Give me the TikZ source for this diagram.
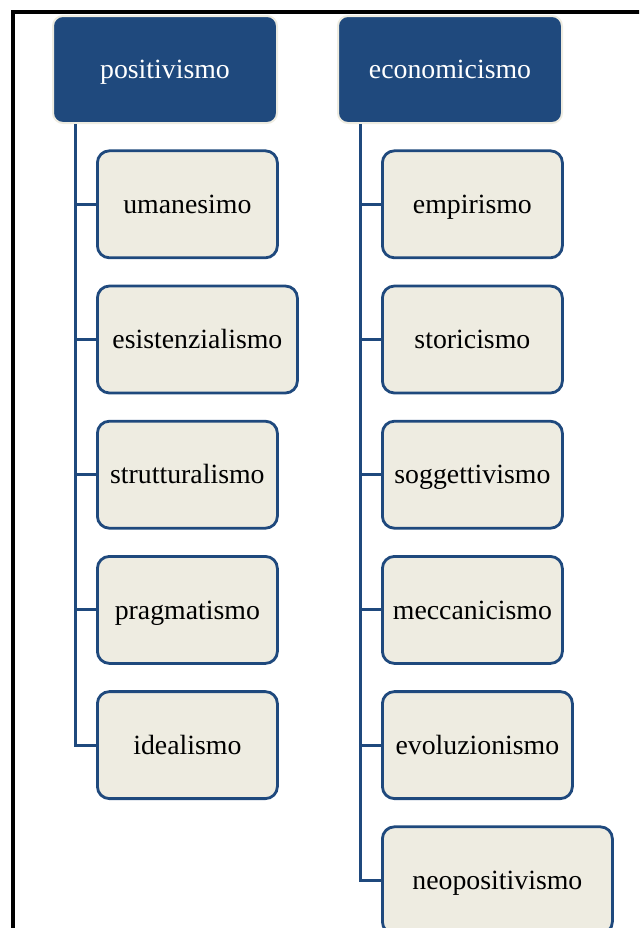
\documentclass[tikz,border=0pt]{standalone}
\usepackage{fontspec}
\setmainfont{Liberation Serif}
\usetikzlibrary{positioning}
\definecolor{hdblue}{HTML}{1F497D}
\definecolor{boxfill}{HTML}{EEECE1}

\begin{document}
\begin{tikzpicture}[
  x=0.5pt, y=-0.5pt,
  node distance = 12.7pt and 22pt,
  every node/.style = {font=\fontsize{13.9}{16}\selectfont, text height=9.2pt, text depth=0pt},
  head/.style = {draw=boxfill, fill=hdblue, line width=1pt, rounded corners=5pt, text=white,
                 minimum width=112pt, minimum height=53.5pt, anchor=north west},
  item/.style = {draw=hdblue, fill=boxfill, line width=1.4pt, rounded corners=6pt,
                 minimum width=90pt, minimum height=53.5pt, anchor=north west},
  link/.style = {draw=hdblue, line width=1.5pt}
]
\useasboundingbox (0,0) rectangle (639,928);
\clip (0,0) rectangle (639,928);

% frame
\draw[line width=2pt] (12.5,11.5) rectangle (700,1000);

% Headers
\node (pos) [head] at (52,15)  {positivismo};
\node (eco) [head] at (337,15) {economicismo};

% Left column
\node (uman)  [item, below right=12.7pt and 22pt of pos.south west] {umanesimo};
\node (esis)  [item, below=of uman.south west, anchor=north west, minimum width=100pt] {esistenzialismo};
\node (strut) [item, below=of esis.south west, anchor=north west]  {strutturalismo};
\node (prag)  [item, below=of strut.south west, anchor=north west] {pragmatismo};
\node (ideal) [item, below=of prag.south west, anchor=north west]  {idealismo};

% Right column
\node (emp)  [item, below right=12.7pt and 22pt of eco.south west] {empirismo};
\node (stor) [item, below=of emp.south west, anchor=north west]  {storicismo};
\node (sogg) [item, below=of stor.south west, anchor=north west] {soggettivismo};
\node (mecc) [item, below=of sogg.south west, anchor=north west] {meccanicismo};
\node (evol) [item, below=of mecc.south west, anchor=north west, minimum width=95pt] {evoluzionismo};
\node (neo)  [item, below=of evol.south west, anchor=north west, minimum width=115pt] {neopositivismo};

% Trunks
\coordinate (pt) at ([xshift=11.5pt]pos.south west);
\coordinate (et) at ([xshift=11.5pt]eco.south west);
\draw[link] (pt) |- (ideal.west);
\draw[link] (et) |- (neo.west);
\foreach \n in {uman, esis, strut, prag}
  \draw[link] (pt |- \n.west) -- (\n.west);
\foreach \n in {emp, stor, sogg, mecc, evol}
  \draw[link] (et |- \n.west) -- (\n.west);

\end{tikzpicture}
\end{document}
